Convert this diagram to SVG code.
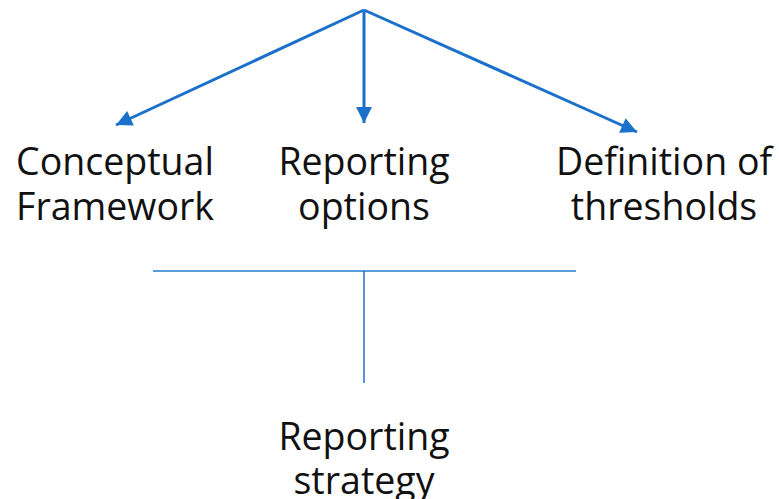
<svg xmlns="http://www.w3.org/2000/svg" width="779" height="499" viewBox="0 0 779 499">
<style>
.lbl{font-family:"Open Sans","Noto Sans",sans-serif;font-size:37.5px;fill:#111;text-anchor:middle}
.arr{stroke:#1b71c9;stroke-width:3;fill:none}
</style>
<defs>
<marker id="ah2" viewBox="0 0 10 10" refX="10" refY="5" markerWidth="18" markerHeight="16" markerUnits="userSpaceOnUse" orient="auto">
<path d="M0,0 L10,5 L0,10 z" fill="#1b71c9"/>
</marker>
</defs>
<rect width="779" height="499" fill="#fff"/>
<g id="connectors">
<line class="arr" x1="364" y1="10" x2="116" y2="125" marker-end="url(#ah2)"/>
<line class="arr" x1="364" y1="10" x2="364" y2="123" marker-end="url(#ah2)"/>
<line class="arr" x1="364" y1="10" x2="637" y2="132" marker-end="url(#ah2)"/>
<line x1="153" y1="271" x2="576" y2="271" stroke="#5b9bd9" stroke-width="2"/>
<line x1="364" y1="271" x2="364" y2="383" stroke="#1f6fd0" stroke-width="1.5"/>
</g>
<g id="conceptual-framework">
<text class="lbl" x="115" y="175">Conceptual</text>
<text class="lbl" x="115" y="220">Framework</text>
</g>
<g id="reporting-options">
<text class="lbl" x="364" y="175">Reporting</text>
<text class="lbl" x="364" y="220">options</text>
</g>
<g id="definition-of-thresholds">
<text class="lbl" x="664" y="175">Definition of</text>
<text class="lbl" x="664" y="220">thresholds</text>
</g>
<g id="reporting-strategy">
<text class="lbl" x="364" y="450">Reporting</text>
<text class="lbl" x="364" y="494">strategy</text>
</g>
</svg>
